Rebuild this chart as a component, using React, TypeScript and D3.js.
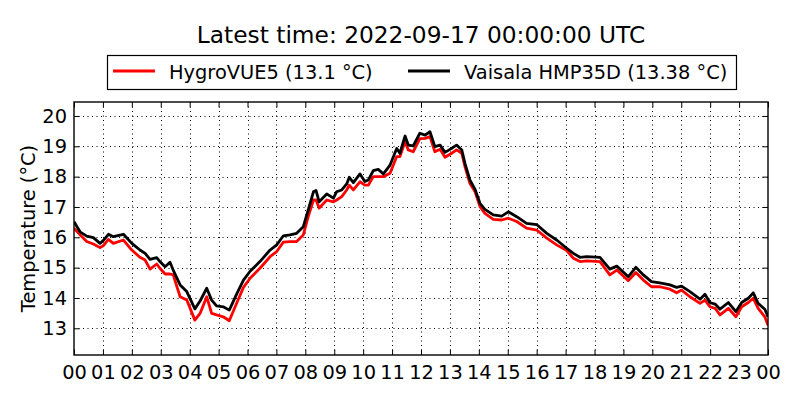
import React, { useRef, useEffect } from "react";
import * as d3 from "d3";

// sample times, hours since 2022-09-16 00:00 UTC
const hours = [
  0.0, 0.21, 0.44, 0.67, 0.9, 1.01, 1.19, 1.36, 1.71, 2.0, 2.28, 2.46, 2.63, 2.86, 2.97,
  3.15, 3.32, 3.43, 3.67, 3.9, 4.18, 4.36, 4.59, 4.76, 4.93, 5.16, 5.37, 5.62, 5.86, 6.09,
  6.43, 6.78, 7.01, 7.24, 7.47, 7.7, 7.93, 8.1, 8.28, 8.37, 8.48, 8.74, 8.97, 9.08, 9.26,
  9.43, 9.52, 9.66, 9.89, 10.06, 10.18, 10.35, 10.52, 10.7, 10.93, 11.16, 11.27, 11.45, 11.56, 11.73,
  11.96, 12.14, 12.31, 12.48, 12.66, 12.83, 13.06, 13.23, 13.41, 13.52, 13.69, 13.87, 14.04, 14.21, 14.5,
  14.79, 15.02, 15.31, 15.65, 16.0, 16.35, 16.69, 17.04, 17.27, 17.5, 17.73, 18.19, 18.53, 18.77, 19.17,
  19.43, 19.69, 19.97, 20.26, 20.61, 20.84, 21.01, 21.3, 21.65, 21.82, 21.99, 22.17, 22.34, 22.63, 22.89,
  23.09, 23.32, 23.49, 23.66, 23.89, 24.0,
];

const hmp35d = [
  16.51, 16.18, 16.04, 15.99, 15.8, 15.89, 16.1, 16.02, 16.1, 15.8, 15.58, 15.47, 15.27, 15.33, 15.2,
  15.03, 15.18, 14.92, 14.43, 14.21, 13.64, 13.9, 14.32, 13.93, 13.74, 13.71, 13.6, 14.12, 14.59, 14.88,
  15.2, 15.58, 15.75, 16.05, 16.08, 16.13, 16.35, 16.9, 17.5, 17.54, 17.17, 17.43, 17.29, 17.5, 17.56,
  17.76, 17.98, 17.8, 18.09, 17.84, 17.89, 18.2, 18.24, 18.09, 18.38, 18.93, 18.77, 19.34, 19.04, 19.01,
  19.43, 19.37, 19.48, 18.99, 19.04, 18.8, 18.93, 19.04, 18.88, 18.44, 17.89, 17.58, 17.12, 16.92, 16.74,
  16.7, 16.84, 16.68, 16.46, 16.42, 16.13, 15.91, 15.64, 15.47, 15.34, 15.36, 15.34, 14.95, 15.05, 14.7,
  15.01, 14.76, 14.54, 14.5, 14.43, 14.35, 14.39, 14.21, 13.96, 14.12, 13.85, 13.8, 13.63, 13.85, 13.55,
  13.85, 13.99, 14.17, 13.82, 13.63, 13.38,
];

const hygroVue5 = [
  16.3, 16.08, 15.86, 15.78, 15.66, 15.72, 15.93, 15.8, 15.91, 15.58, 15.34, 15.25, 14.95, 15.12, 14.98,
  14.79, 14.79, 14.76, 14.04, 13.93, 13.27, 13.49, 14.04, 13.49, 13.44, 13.38, 13.25, 13.82, 14.35, 14.65,
  14.98, 15.36, 15.53, 15.84, 15.86, 15.86, 16.08, 16.68, 17.23, 17.23, 16.96, 17.23, 17.17, 17.23, 17.34,
  17.56, 17.72, 17.56, 17.83, 17.72, 17.72, 18.0, 18.0, 18.0, 18.11, 18.66, 18.66, 19.15, 18.88, 18.82,
  19.25, 19.26, 19.32, 18.82, 18.9, 18.64, 18.77, 18.88, 18.77, 18.33, 17.78, 17.5, 17.01, 16.79, 16.59,
  16.57, 16.63, 16.52, 16.3, 16.24, 15.97, 15.75, 15.56, 15.31, 15.2, 15.22, 15.2, 14.76, 14.92, 14.57,
  14.84, 14.59, 14.37, 14.37, 14.29, 14.17, 14.26, 14.04, 13.82, 13.93, 13.71, 13.66, 13.44, 13.66, 13.38,
  13.71, 13.85, 13.99, 13.66, 13.38, 13.1,
];

const hourTicks = d3.range(0, 25);
const tempTicks = [13, 14, 15, 16, 17, 18, 19, 20];
const legendLabels = ["HygroVUE5 (13.1 °C)", "Vaisala HMP35D (13.38 °C)"];
const titleText = "Latest time: 2022-09-17 00:00:00 UTC";

export default function App() {
  const ref = useRef<SVGSVGElement>(null);

  useEffect(() => {
    if (!ref.current) return;
    const svg = d3.select(ref.current);
    svg.selectAll("*").remove();

    const width = 800;
    const height = 400;
    const m = { top: 102, right: 32, bottom: 45, left: 74 };
    const font = "DejaVu Sans, sans-serif";

    const x = d3.scaleLinear().domain([0, 24]).range([m.left, width - m.right]);
    const y = d3.scaleLinear().domain([12.12, 20.46]).range([height - m.bottom, m.top]);

    svg.attr("width", width).attr("height", height).style("font-family", font);

    svg.append("rect").attr("width", width).attr("height", height).attr("fill", "#fff");

    // grid
    const grid = svg.append("g").attr("stroke", "#000").attr("stroke-width", 1).attr("stroke-dasharray", "1,3.5");
    grid.selectAll("line.v")
      .data(hourTicks.slice(1, -1))
      .join("line")
      .attr("x1", (d) => Math.round(x(d)) + 0.5).attr("x2", (d) => Math.round(x(d)) + 0.5)
      .attr("y1", m.top).attr("y2", height - m.bottom);
    grid.selectAll("line.h")
      .data(tempTicks)
      .join("line")
      .attr("class", "h")
      .attr("x1", m.left).attr("x2", width - m.right)
      .attr("y1", (d) => Math.round(y(d)) + 0.5).attr("y2", (d) => Math.round(y(d)) + 0.5);

    // lines
    svg.append("clipPath").attr("id", "plot-clip")
      .append("rect")
      .attr("x", m.left).attr("y", m.top)
      .attr("width", width - m.left - m.right)
      .attr("height", height - m.top - m.bottom);

    const line = d3.line<number>()
      .x((_, i) => x(hours[i]))
      .y((d) => y(d));

    const plot = svg.append("g").attr("clip-path", "url(#plot-clip)");
    plot.append("path").datum(hygroVue5)
      .attr("fill", "none").attr("stroke", "#ff0000").attr("stroke-width", 2.8)
      .attr("stroke-linejoin", "round").attr("d", line);
    plot.append("path").datum(hmp35d)
      .attr("fill", "none").attr("stroke", "#000").attr("stroke-width", 2.8)
      .attr("stroke-linejoin", "round").attr("d", line);

    // axes, ticks inward on all sides
    const tick = 5.5;
    const bottomAxis = d3.axisBottom(x).tickValues(hourTicks)
      .tickFormat((d) => d3.format("02d")(+d % 24)).tickSize(-tick).tickPadding(8);
    const topAxis = d3.axisTop(x).tickValues(hourTicks).tickFormat(() => "").tickSize(-tick);
    const leftAxis = d3.axisLeft(y).tickValues(tempTicks).tickFormat(d3.format("d")).tickSize(-tick).tickPadding(7);
    const rightAxis = d3.axisRight(y).tickValues(tempTicks).tickFormat(() => "").tickSize(-tick);

    const styleAxis = (g: d3.Selection<SVGGElement, unknown, null, undefined>) => {
      g.select(".domain").remove();
      g.selectAll(".tick line").attr("stroke", "#000").attr("stroke-width", 1);
      g.selectAll(".tick text").attr("fill", "#000").style("font-size", "19.4px").style("font-family", font);
    };

    svg.append("g").attr("transform", `translate(0,${height - m.bottom})`).call(bottomAxis).call(styleAxis)
      .selectAll(".tick text").attr("dy", "0.85em");
    svg.append("g").attr("transform", `translate(0,${m.top})`).call(topAxis).call(styleAxis);
    svg.append("g").attr("transform", `translate(${m.left},0)`).call(leftAxis).call(styleAxis);
    svg.append("g").attr("transform", `translate(${width - m.right},0)`).call(rightAxis).call(styleAxis);

    svg.append("rect")
      .attr("x", m.left).attr("y", m.top)
      .attr("width", width - m.left - m.right)
      .attr("height", height - m.top - m.bottom)
      .attr("fill", "none").attr("stroke", "#000").attr("stroke-width", 1.4);

    // axis label
    svg.append("text")
      .attr("transform", `translate(35,${(m.top + height - m.bottom) / 2}) rotate(-90)`)
      .attr("text-anchor", "middle")
      .style("font-size", "19.4px")
      .text("Temperature (°C)");

    // title
    svg.append("text")
      .attr("x", (m.left + width - m.right) / 2).attr("y", 43)
      .attr("text-anchor", "middle")
      .style("font-size", "23.3px")
      .text(titleText);

    // legend
    const legend = svg.append("g");
    legend.append("rect")
      .attr("x", 107.5).attr("y", 55.5).attr("width", 629).attr("height", 34)
      .attr("fill", "#fff").attr("stroke", "#000").attr("stroke-width", 1.2);
    const items = [
      { label: legendLabels[0], color: "#ff0000", x0: 113, tx: 169 },
      { label: legendLabels[1], color: "#000", x0: 408, tx: 464 },
    ];
    items.forEach((it) => {
      legend.append("line")
        .attr("x1", it.x0).attr("x2", it.x0 + 42).attr("y1", 71).attr("y2", 71)
        .attr("stroke", it.color).attr("stroke-width", 2.8);
      legend.append("text")
        .attr("x", it.tx).attr("y", 78.5)
        .style("font-size", "19.4px")
        .text(it.label);
    });
  }, []);

  return <svg ref={ref} style={{ position: "absolute", left: 0, top: 0 }} />;
}
